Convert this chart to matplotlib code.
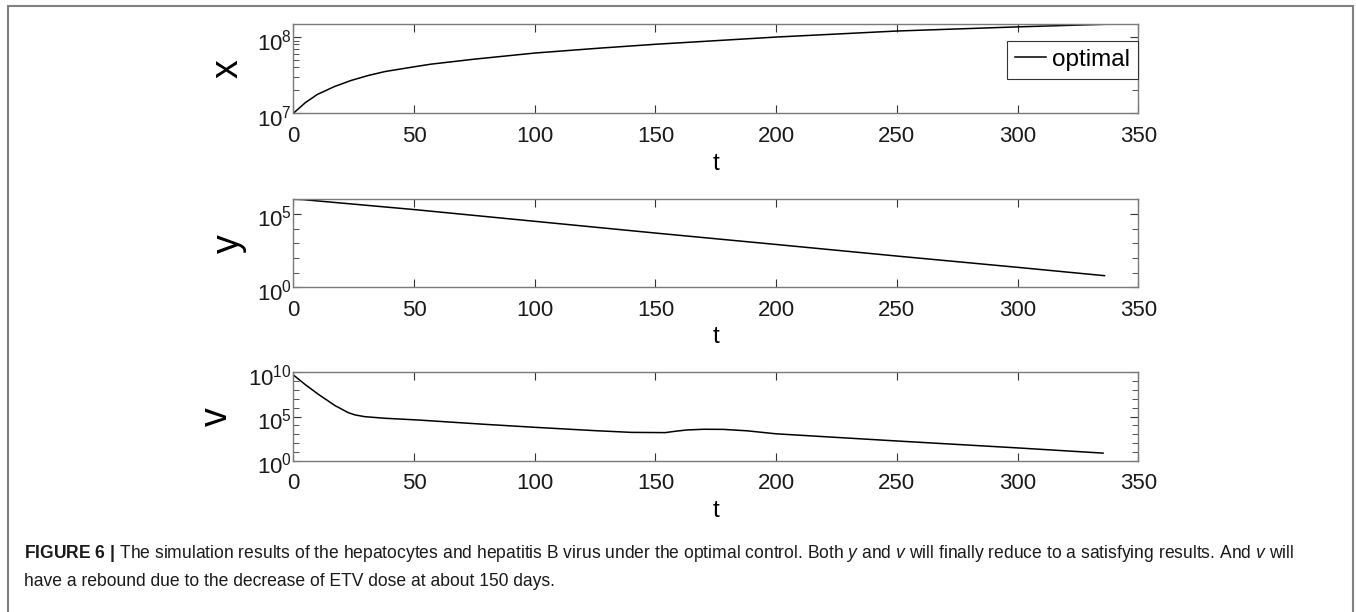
import matplotlib.pyplot as plt
from matplotlib.patches import Rectangle
from matplotlib.ticker import FixedLocator, NullFormatter
from matplotlib.transforms import ScaledTranslation

plt.rcParams['font.family'] = ['Liberation Sans', 'DejaVu Sans']
plt.rcParams['mathtext.fontset'] = 'custom'
plt.rcParams['mathtext.rm'] = 'Liberation Sans'
plt.rcParams['mathtext.it'] = 'Liberation Sans:italic'
plt.rcParams['mathtext.bf'] = 'Liberation Sans:bold'

# hepatocytes x
t_x = [0, 5, 10, 17, 24, 31, 38, 50, 57, 75, 100, 127, 150, 200, 250, 300, 336]
x_vals = [1.00e7, 1.38e7, 1.77e7, 2.24e7, 2.70e7, 3.13e7, 3.53e7, 4.07e7, 4.41e7,
          5.13e7, 6.17e7, 7.16e7, 8.04e7, 1.00e8, 1.20e8, 1.36e8, 1.47e8]

# infected cells y (middle panel)
t_y = [0, 4, 50, 100, 150, 200, 250, 300, 336]
y_vals = [1.0e6, 9.5e5, 2.0e5, 3.16e4, 5.0e3, 832, 135, 23, 6.2]

# virus v (bottom panel), rebound near 150 days
t_v = [0, 5, 10.4, 17.3, 22.8, 25.6, 29.7, 38, 51.8, 79.4, 100, 125, 140, 154,
       158, 163, 170, 178, 188, 200, 218, 250, 300, 335.4]
v_vals = [5.0e9, 4.0e8, 3.2e7, 1.7e6, 2.7e5, 1.5e5, 9.5e4, 6.3e4, 4.0e4, 1.3e4,
          6.0e3, 2.5e3, 1.6e3, 1.5e3, 2.1e3, 3.0e3, 3.6e3, 3.5e3, 2.4e3, 1.1e3,
          5.6e2, 1.7e2, 28, 7.2]

t_ticks = [0, 50, 100, 150, 200, 250, 300, 350]

caption1 = (r"$\bf{FIGURE\ 6\ |}$ The simulation results of the hepatocytes and hepatitis B virus "
            r"under the optimal control. Both $\it{y}$ and $\it{v}$ will finally reduce to a "
            r"satisfying results. And $\it{v}$ will")
caption2 = "have a rebound due to the decrease of ETV dose at about 150 days."

SPINE = '#7a7a7a'


def style_axis(ax, ylim, major, minor, label, label_x):
    ax.set_yscale('log')
    ax.set_xlim(0, 350)
    ax.set_ylim(*ylim)
    ax.set_xticks(t_ticks)
    ax.yaxis.set_major_locator(FixedLocator(major))
    ax.yaxis.set_minor_locator(FixedLocator(minor))
    ax.yaxis.set_minor_formatter(NullFormatter())
    ax.tick_params(which='both', direction='in', top=True, right=True,
                   color='#333333', labelsize=16, labelcolor='#1a1a1a')
    ax.tick_params(axis='x', which='major', length=6, pad=9)
    ax.tick_params(axis='y', which='major', length=6, pad=1)
    ax.tick_params(which='minor', length=4.5)
    ax.tick_params(axis='x', which='minor', length=0)
    for s in ax.spines.values():
        s.set_color(SPINE)
        s.set_linewidth(1.0)
    ax.set_xlabel('t', fontsize=17.5)
    ax.xaxis.set_label_coords(0.5, -0.445)
    ax.set_ylabel(label, fontsize=27)
    ax.yaxis.set_label_coords(label_x, 0.5)
    # MATLAB puts the base of 10^n a little below the tick
    shift = ScaledTranslation(0, -2.5 / 100, ax.figure.dpi_scale_trans)
    for lab in ax.get_yticklabels():
        lab.set_transform(lab.get_transform() + shift)


fig = plt.figure(figsize=(13.56, 6.12), dpi=100)

left, width = 293.3 / 1356, 845.0 / 1356
ax1 = fig.add_axes([left, 1 - 113.3 / 612, width, 89 / 612])
ax2 = fig.add_axes([left, 1 - 287.3 / 612, width, 88 / 612])
ax3 = fig.add_axes([left, 1 - 460.7 / 612, width, 88.4 / 612])

ax1.plot(t_x, x_vals, color='black', lw=1.1, label='optimal')
ax2.plot(t_y, y_vals, color='black', lw=1.1)
ax3.plot(t_v, v_vals, color='black', lw=1.1)

style_axis(ax1, (1e7, 1.47e8), [1e7, 1e8], [k * 1e7 for k in range(2, 10)], 'x', -0.056)
style_axis(ax2, (1e0, 1e6), [1e0, 1e5], [10.0 ** k for k in range(1, 7)], 'y', -0.055)
style_axis(ax3, (1e0, 1e10), [1e0, 1e5, 1e10], [10.0 ** k for k in range(1, 10)], 'v', -0.069)

leg = ax1.legend(loc='upper right', bbox_to_anchor=(1.0, 0.816), borderaxespad=0,
                 fontsize=17.5, fancybox=False, framealpha=1, edgecolor='#333333',
                 handlelength=1.3, handletextpad=0.25, borderpad=0.33)
leg.get_frame().set_linewidth(0.8)

# outer frame of the published figure
fig.patches.append(Rectangle((8 / 1356, -0.1), 1345 / 1356, 1.1 - 6 / 612,
                             transform=fig.transFigure, fill=False,
                             edgecolor='#808080', lw=1.5))

fig.text(24 / 1356, 1 - 553 / 612, caption1, fontsize=12.65, va='center', color='#1a1a1a')
fig.text(24 / 1356, 1 - 581 / 612, caption2, fontsize=12.65, va='center', color='#1a1a1a')

plt.savefig('out.png', dpi=100)
